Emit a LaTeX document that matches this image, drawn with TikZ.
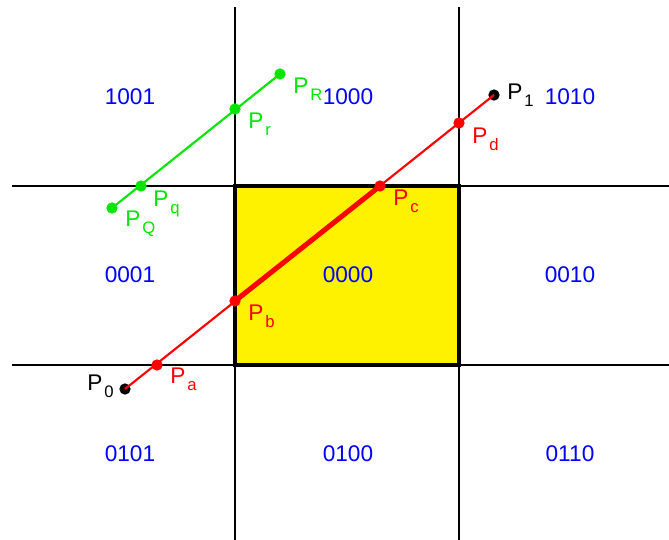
\documentclass[tikz,border=0pt]{standalone}
\usepackage{fontspec}
\setmainfont{Liberation Sans}
\usetikzlibrary{positioning}

\definecolor{linegreen}{RGB}{0,230,0}
\newcommand{\ptname}[1]{P\kern1.5pt\raisebox{-5pt}{\fontsize{12.5}{14}\selectfont #1}}

\tikzset{
  dot/.style={circle,fill,inner sep=0pt,minimum size=8.5pt},
  code/.style={text=blue,font=\fontsize{17}{20}\selectfont},
  plabel/.style={font=\fontsize{17}{20}\selectfont,inner sep=0pt},
  gridline/.style={line width=0.8pt}
}

\begin{document}
\begin{tikzpicture}[x=0.75pt,y=-0.75pt]
\useasboundingbox (0,0) rectangle (669,540);

% clip window
\fill[yellow] (235,186) rectangle (459,365);
\draw[gridline] (235,7) -- (235,540);
\draw[gridline] (459,7) -- (459,540);
\draw[gridline] (12,186) -- (669,186);
\draw[gridline] (12,365) -- (669,365);
\draw[line width=2.3pt] (235,186) rectangle (459,365);

% region codes
\node[code] (c1001) at (130,97) {1001};
\node[code] (c1000) at (348,97) {1000};
\node[code] (c1010) at (570,97) {1010};
\node[code] (c0001) at (130,275) {0001};
\node[code] (c0000) at (348,275) {0000};
\node[code] (c0010) at (570,275) {0010};
\node[code] (c0101) at (130,454) {0101};
\node[code] (c0100) at (348,454) {0100};
\node[code] (c0110) at (570,454) {0110};

% red segment
\node[dot,black] (P0) at (125,389) {};
\node[dot,black] (P1) at (494,95) {};
\draw[red,line width=1.6pt] (P0.center) -- (P1.center);
\node[dot,red] (Pa) at (157,365) {};
\node[dot,red] (Pb) at (235,301) {};
\node[dot,red] (Pc) at (380,186) {};
\node[dot,red] (Pd) at (459,123) {};
\draw[red,line width=3.8pt] (Pb.center) -- (Pc.center);

\node[plabel,anchor=east] (lP0) at (114,386) {\ptname{0}};
\node[plabel,anchor=west] (lP1) at (507,95) {\ptname{1}};
\node[plabel,red,anchor=north west] (lPa) at (170,368) {\ptname{a}};
\node[plabel,red,anchor=north west] (lPb) at (248,305) {\ptname{b}};
\node[plabel,red,anchor=north west] (lPc) at (393,190) {\ptname{c}};
\node[plabel,red,anchor=north west] (lPd) at (472,128) {\ptname{d}};

% green segment
\node[dot,linegreen] (PQ) at (112,208) {};
\node[dot,linegreen] (PR) at (280,74) {};
\draw[linegreen,line width=1.6pt] (PQ.center) -- (PR.center);
\node[dot,linegreen] (Pq) at (141,186) {};
\node[dot,linegreen] (Pr) at (235,109) {};

\node[plabel,linegreen,anchor=north west] (lPQ) at (125,211) {\ptname{Q}};
\node[plabel,linegreen,anchor=north west] (lPR) at (293,78) {\ptname{R}};
\node[plabel,linegreen,anchor=north west] (lPq) at (153,191) {\ptname{q}};
\node[plabel,linegreen,anchor=north west] (lPr) at (248,113) {\ptname{r}};
\end{tikzpicture}
\end{document}
